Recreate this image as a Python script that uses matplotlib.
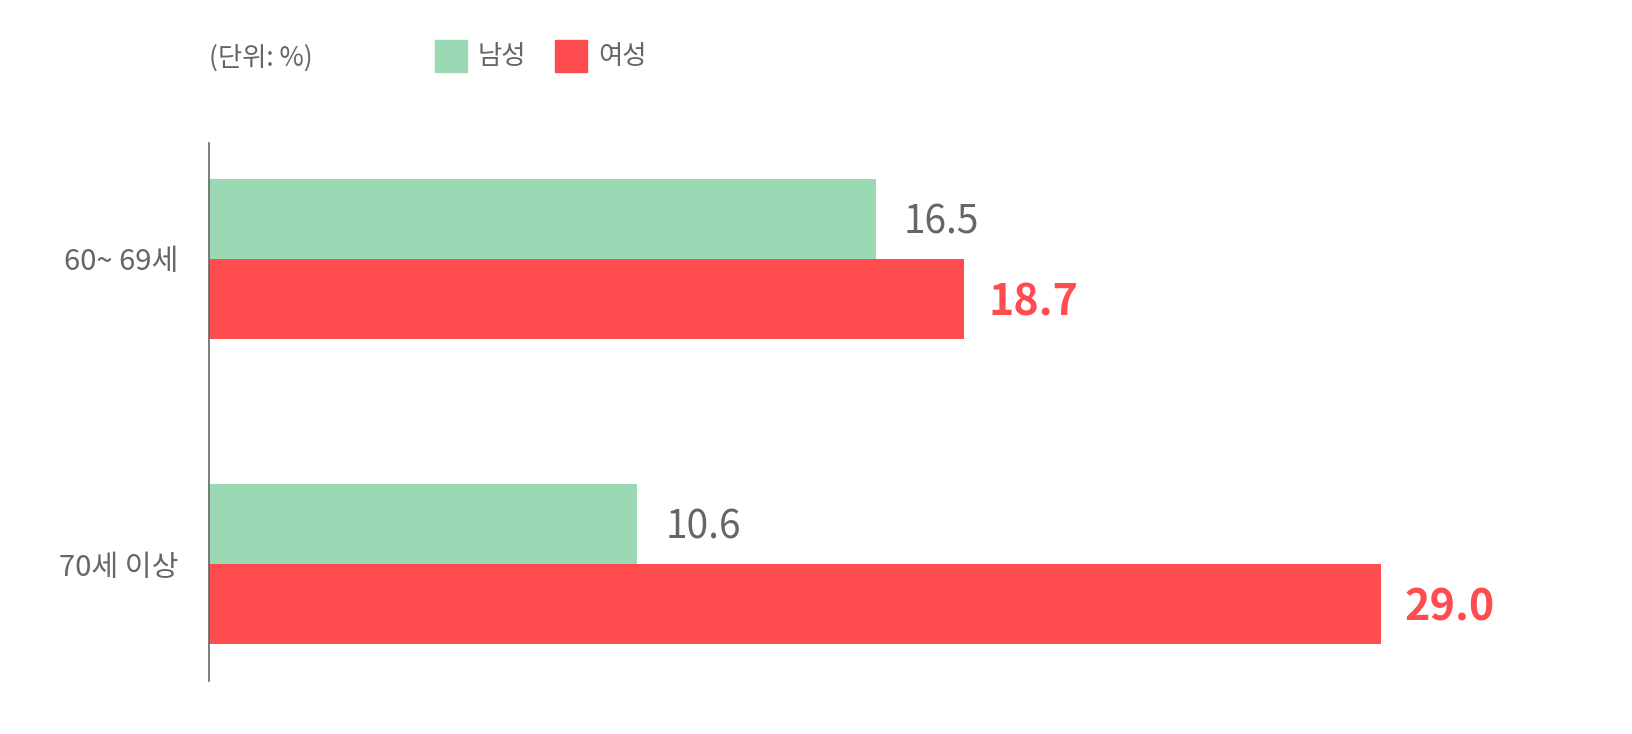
import matplotlib
matplotlib.use("Agg")
import matplotlib.pyplot as plt
from matplotlib.patches import Rectangle

plt.rcParams['font.family'] = ['Noto Sans CJK KR', 'DejaVu Sans']

categories = ["60~ 69세", "70세 이상"]
male = [16.5, 10.6]
female = [18.7, 29.0]
series_names = ["남성", "여성"]
c_male = "#9AD9B4"
c_female = "#FF4D4F"
grey = "#666666"

W, H = 1632, 734
fig = plt.figure(figsize=(W/100, H/100), dpi=100)
ax = fig.add_axes([209/W, 1-681/H, 1-209/W, 538/H])
pos = [0, 1]
h = 80/305
ax.barh([p - h/2 for p in pos], male, height=h, color=c_male)
ax.barh([p + h/2 for p in pos], female, height=h, color=c_female)
ax.set_xlim(0, (W-209)/40.4)
ax.set_ylim(1 + 117/305, -116/305)
for p, m, f in zip(pos, male, female):
    ax.text(m + 0.7, p - h/2 + 0.01, f"{m:.1f}", va='center', ha='left', fontsize=28, color=grey)
    ax.text(f + 0.6, p + h/2 + 0.01, f"{f:.1f}", va='center', ha='left', fontsize=31, color=c_female, fontweight='bold')
ax.set_yticks(pos)
ax.set_yticklabels(categories, fontsize=21, color=grey)
ax.tick_params(axis='y', length=0, pad=22)
ax.set_xticks([])
for s in ['top', 'right', 'bottom']:
    ax.spines[s].set_visible(False)
ax.spines['left'].set_color(grey)
ax.spines['left'].set_linewidth(1.2)

fig.text(209/W, 1-58/H, "(단위: %)", fontsize=19, color=grey, va='center', ha='left')
for x0, name, col in [(435, series_names[0], c_male), (555, series_names[1], c_female)]:
    fig.patches.append(Rectangle((x0/W, 1-72/H), 32/W, 32/H, transform=fig.transFigure, color=col))
    fig.text((x0+43)/W, 1-57/H, name, fontsize=19, color=grey, va='center', ha='left')

fig.savefig("out.png", dpi=100)
